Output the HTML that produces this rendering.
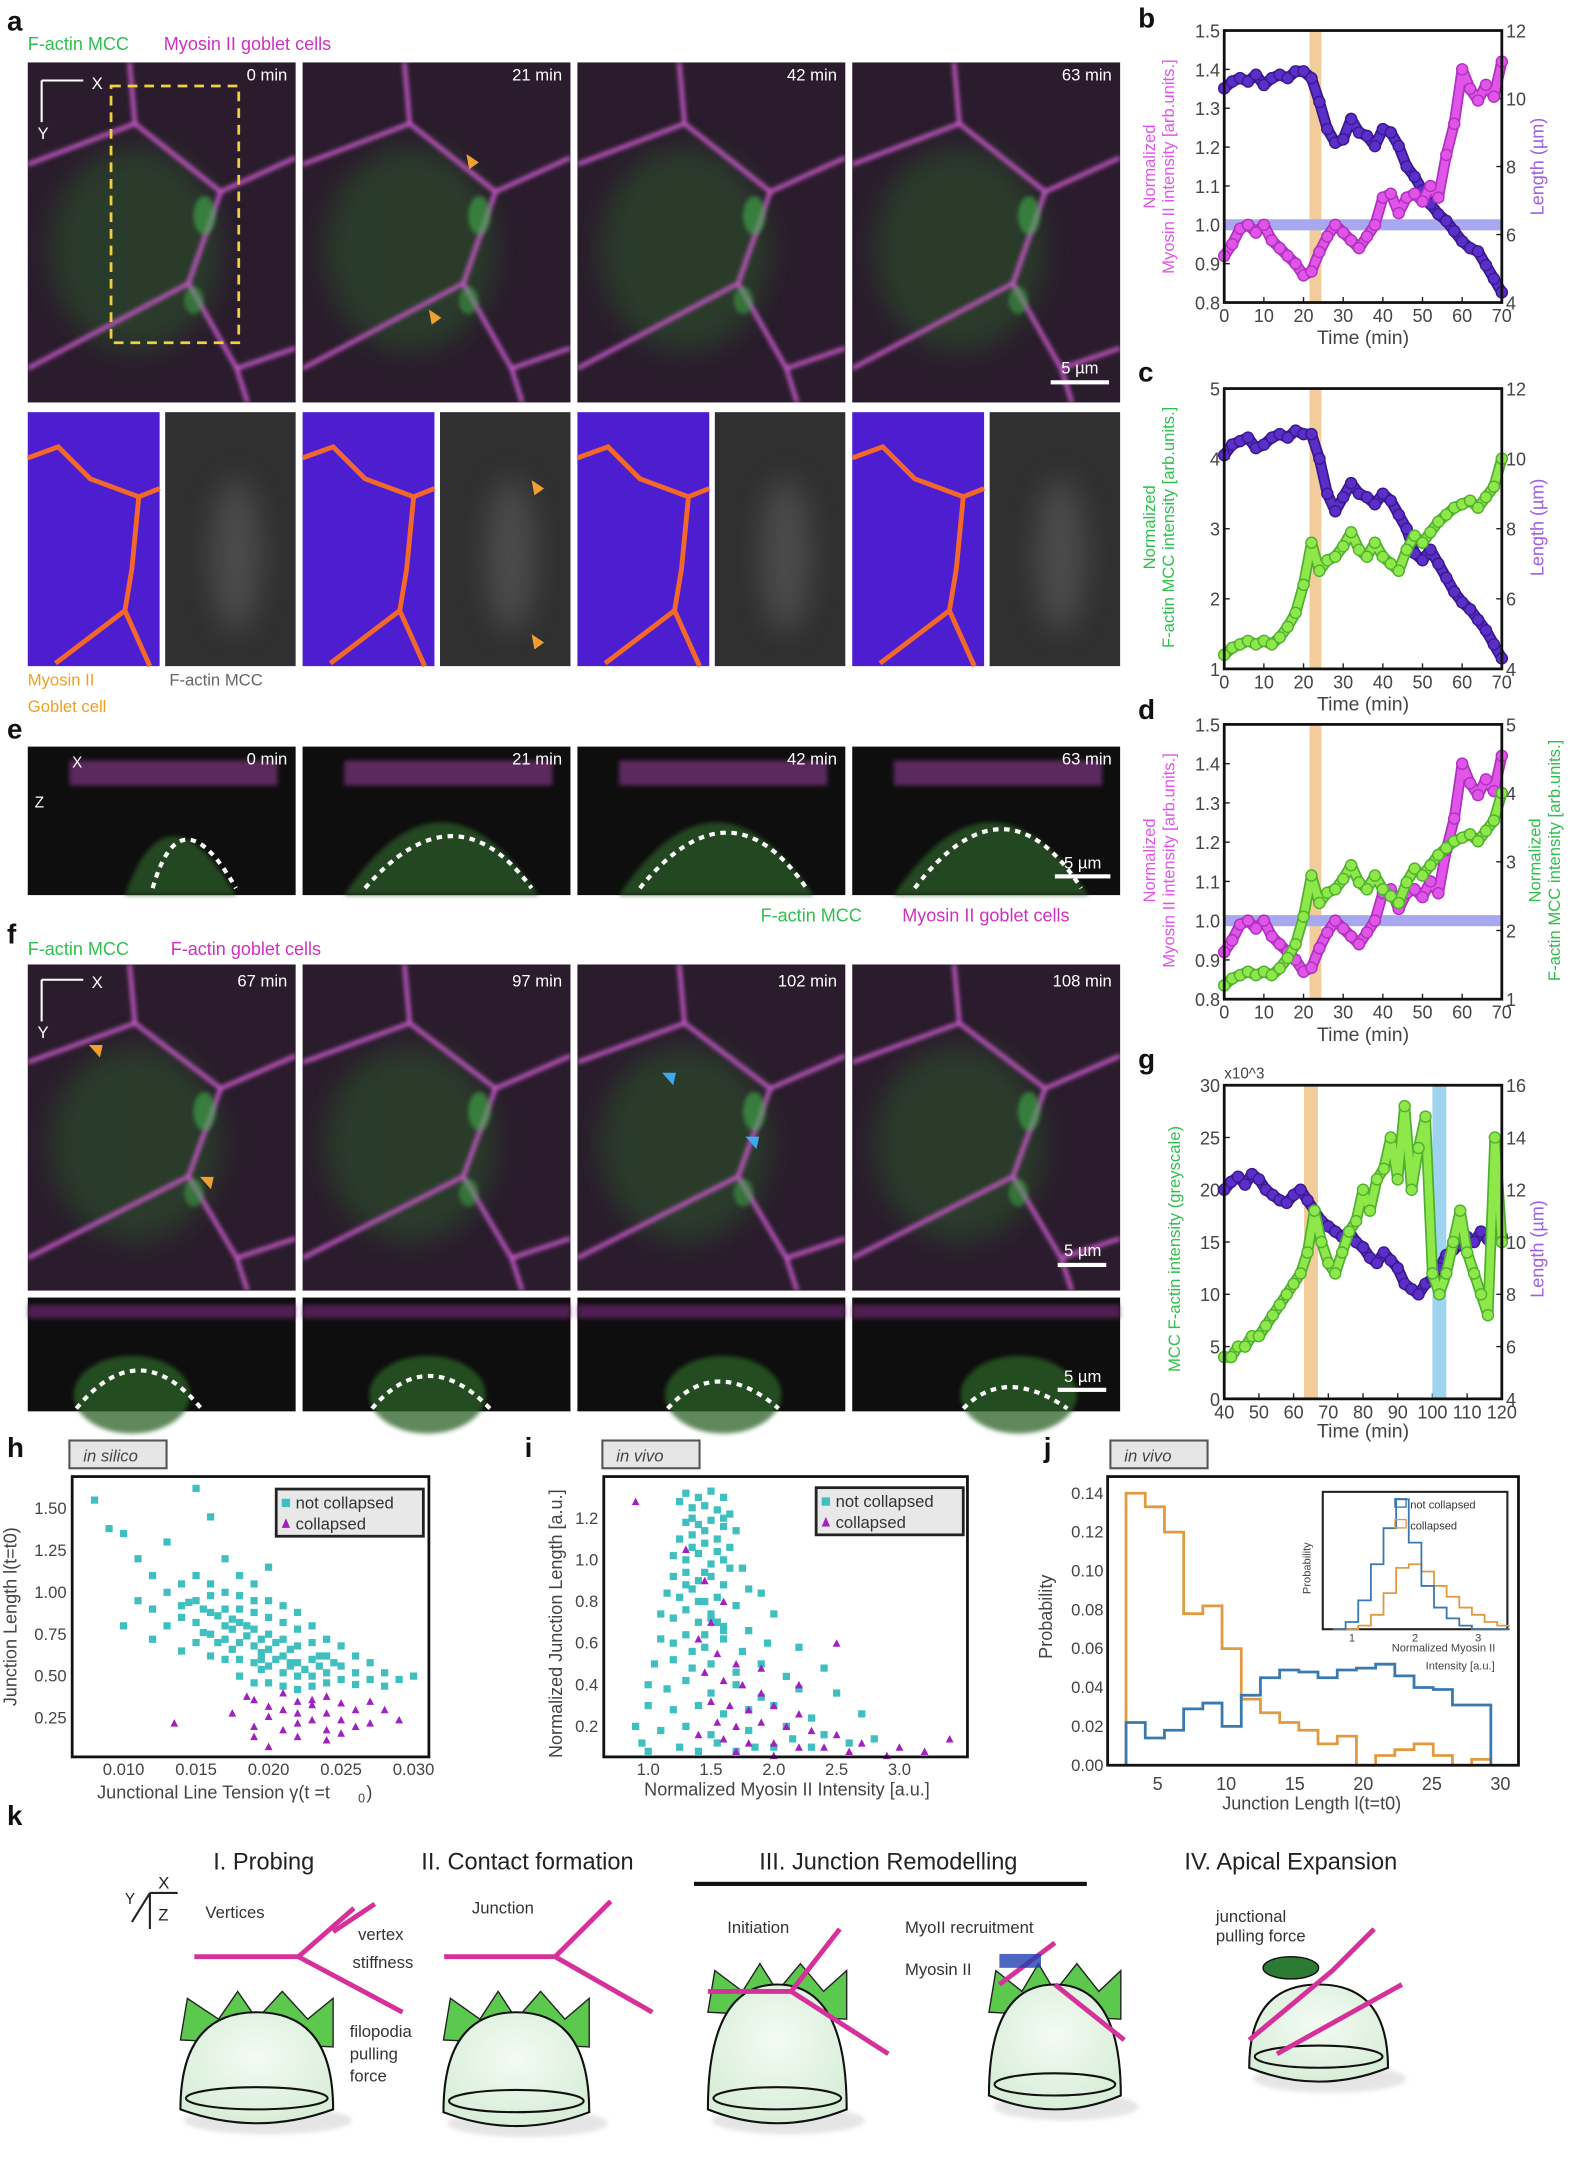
<!DOCTYPE html>
<html><head><meta charset="utf-8">
<style>
html,body{margin:0;padding:0;background:#fff;}
svg{display:block;font-family:"Liberation Sans",sans-serif;}
</style></head>
<body>
<svg id="fig" xmlns="http://www.w3.org/2000/svg" width="1574" height="2176" viewBox="0 0 1134 1568" preserveAspectRatio="none">
<defs>
<filter id="bl" x="-20%" y="-20%" width="140%" height="140%"><feGaussianBlur stdDeviation="1.6"/></filter>
<filter id="bl2" x="-50%" y="-50%" width="200%" height="200%"><feGaussianBlur stdDeviation="10"/></filter>
<radialGradient id="cellg" cx="50%" cy="40%" r="60%"><stop offset="0" stop-color="#f4fbf4"/><stop offset="1" stop-color="#d8eed8"/></radialGradient>
</defs>
<g id="micro"></g>
<g id="charts"></g>
<g id="schem"></g>
</svg>
<script>
// ---------- DATA ----------
const tB = [0,2,4,6,8,10,12,14,16,18,20,22,24,26,28,30,32,34,36,38,40,42,44,46,48,50,52,54,56,58,60,62,64,66,68,70];
const myoB = [0.92,0.95,0.99,1.0,0.98,1.0,0.96,0.94,0.92,0.9,0.87,0.88,0.93,0.97,1.0,0.98,0.96,0.94,0.97,1.0,1.07,1.08,1.03,1.07,1.08,1.06,1.1,1.07,1.18,1.26,1.4,1.35,1.32,1.36,1.33,1.42];
const lenB = [10.3,10.5,10.6,10.5,10.7,10.4,10.6,10.7,10.6,10.8,10.8,10.6,9.9,9.1,8.7,8.8,9.4,9.0,8.9,8.6,9.1,9.0,8.6,8.0,7.7,7.3,6.9,6.6,6.4,6.1,5.8,5.6,5.5,5.1,4.7,4.3];
const actC = [1.2,1.3,1.35,1.4,1.35,1.4,1.35,1.45,1.6,1.8,2.2,2.8,2.4,2.55,2.6,2.75,2.95,2.7,2.6,2.8,2.6,2.5,2.4,2.7,2.9,2.8,2.95,3.1,3.2,3.3,3.35,3.4,3.3,3.45,3.6,4.0];
const lenC = [10.1,10.4,10.5,10.6,10.3,10.4,10.6,10.7,10.6,10.8,10.7,10.7,10.0,9.0,8.5,8.9,9.3,9.0,8.9,8.7,9.0,8.8,8.4,8.0,7.3,7.1,7.4,7.0,6.6,6.2,5.9,5.7,5.4,5.1,4.7,4.3];
const tG = [40,42,44,46,48,50,52,54,56,58,60,62,64,66,68,70,72,74,76,78,80,82,84,86,88,90,92,94,96,98,100,102,104,106,108,110,112,114,116,118,120];
const actG = [4,4,5,5,6,6,7,8,9,10,11,12,14,18,15,13,12,14,16,17,20,18,21,22,25,21,28,20,24,27,12,10,12,15,18,14,12,10,8,25,15];
const lenG = [12,12.3,12.5,12.2,12.6,12.4,12,11.8,11.6,11.5,11.8,12,11.6,11.2,10.8,10.6,10.4,10.2,10.4,10.0,9.8,9.4,9.2,9.6,9.3,9.0,8.4,8.2,8.0,8.4,8.6,9.0,9.5,9.7,9.9,10.2,10.0,10.4,10.1,10.3,10.2];
const hNX = [0.008,0.009,0.010,0.010,0.011,0.011,0.012,0.012,0.012,0.013,0.013,0.013,0.014,0.014,0.014,0.014,0.015,0.015,0.015,0.015,0.015,0.016,0.016,0.016,0.016,0.016,0.016,0.017,0.017,0.017,0.017,0.017,0.017,0.018,0.018,0.018,0.018,0.018,0.018,0.018,0.019,0.019,0.019,0.019,0.019,0.019,0.019,0.020,0.020,0.020,0.020,0.020,0.020,0.020,0.021,0.021,0.021,0.021,0.021,0.021,0.022,0.022,0.022,0.022,0.022,0.022,0.023,0.023,0.023,0.023,0.023,0.024,0.024,0.024,0.024,0.025,0.025,0.025,0.026,0.026,0.026,0.027,0.027,0.028,0.028,0.029,0.030,0.0165,0.0175,0.0185,0.0195,0.0205,0.0215,0.0225,0.0155,0.0145,0.0235,0.0245,0.0215,0.0195,0.0165,0.0175,0.0185,0.0195,0.0205,0.0155,0.0175,0.0195,0.0215,0.0235];
const hNY = [1.55,1.38,1.35,0.8,1.2,0.95,1.1,0.9,0.72,1.3,1.0,0.8,1.05,0.92,0.85,0.65,1.62,1.1,0.95,0.82,0.7,1.45,1.05,0.98,0.88,0.75,0.62,1.2,1.0,0.9,0.8,0.72,0.6,1.1,0.98,0.9,0.82,0.7,0.6,0.5,1.05,0.95,0.88,0.78,0.68,0.58,0.46,1.15,0.95,0.85,0.75,0.66,0.56,0.46,0.92,0.82,0.72,0.62,0.52,0.44,0.88,0.78,0.68,0.58,0.5,0.42,0.8,0.7,0.6,0.5,0.44,0.72,0.62,0.52,0.46,0.68,0.56,0.48,0.62,0.52,0.45,0.58,0.48,0.52,0.44,0.48,0.5,0.86,0.78,0.74,0.64,0.6,0.56,0.54,0.9,0.94,0.62,0.58,0.66,0.72,0.7,0.66,0.8,0.6,0.7,0.76,0.84,0.54,0.58,0.56];
const hCX = [0.0135,0.0175,0.0185,0.019,0.019,0.020,0.020,0.021,0.021,0.022,0.022,0.022,0.023,0.023,0.024,0.024,0.024,0.025,0.025,0.026,0.026,0.027,0.027,0.028,0.029,0.019,0.021,0.023,0.025,0.020,0.022,0.024];
const hCY = [0.22,0.28,0.38,0.36,0.2,0.32,0.08,0.4,0.18,0.35,0.28,0.14,0.33,0.24,0.38,0.28,0.18,0.34,0.24,0.3,0.2,0.35,0.22,0.3,0.24,0.14,0.3,0.36,0.16,0.26,0.22,0.12];
const iNX = [1.3,1.4,1.5,1.6,1.35,1.45,1.55,1.65,1.3,1.4,1.5,1.6,1.7,1.25,1.35,1.45,1.55,1.65,1.2,1.3,1.4,1.5,1.6,1.75,1.2,1.3,1.4,1.5,1.6,1.8,1.15,1.25,1.35,1.45,1.55,1.7,1.9,1.1,1.2,1.3,1.4,1.5,1.6,1.8,2.0,1.1,1.2,1.3,1.45,1.6,1.75,1.95,2.2,1.05,1.2,1.35,1.5,1.7,1.9,2.1,2.4,1.0,1.15,1.3,1.5,1.7,1.9,2.2,2.5,1.0,1.2,1.4,1.6,1.8,2.0,2.3,2.7,0.9,1.1,1.3,1.5,1.8,2.1,2.4,0.95,1.25,1.55,1.85,2.15,2.6,1.0,1.4,1.7,2.0,2.3,2.8,1.6,1.45,1.35,1.55,1.25,1.35,1.45,1.55,1.65,1.3,1.4,1.5,1.6,1.35,1.45,1.55];
const iNY = [1.32,1.3,1.33,1.3,1.25,1.26,1.24,1.22,1.18,1.17,1.19,1.16,1.14,1.1,1.12,1.08,1.1,1.06,1.02,1.0,1.03,0.98,1.0,0.96,0.92,0.94,0.9,0.92,0.88,0.86,0.84,0.82,0.86,0.8,0.82,0.78,0.84,0.74,0.72,0.76,0.7,0.72,0.68,0.66,0.74,0.62,0.6,0.64,0.58,0.62,0.56,0.6,0.58,0.5,0.52,0.48,0.5,0.46,0.5,0.44,0.48,0.4,0.38,0.42,0.36,0.4,0.34,0.38,0.36,0.3,0.28,0.3,0.26,0.28,0.3,0.24,0.26,0.2,0.18,0.2,0.16,0.18,0.2,0.16,0.12,0.1,0.12,0.1,0.14,0.12,0.08,0.08,0.08,0.1,0.1,0.14,1.2,0.94,1.06,0.7,1.28,1.2,1.14,1.04,0.96,0.88,0.8,0.74,0.66,0.56,0.64,0.7];
const iCX = [0.9,1.3,1.45,1.6,1.5,1.4,1.55,1.7,1.45,1.6,1.75,1.9,1.5,1.65,1.8,2.0,2.2,1.55,1.7,1.9,2.1,2.3,2.5,1.6,1.8,2.0,2.2,2.4,2.7,3.0,3.4,1.4,1.7,2.0,2.6,2.9,3.2,2.5,2.2,1.9];
const iCY = [1.28,1.05,0.9,0.8,0.7,0.62,0.55,0.5,0.46,0.42,0.4,0.36,0.32,0.3,0.28,0.3,0.26,0.22,0.2,0.22,0.2,0.18,0.16,0.14,0.12,0.12,0.1,0.1,0.12,0.1,0.14,0.16,0.08,0.06,0.08,0.06,0.08,0.6,0.4,0.48];
const jEdges0 = 2.7;
const jBinW = 1.4;
const jOrange = [0.14,0.133,0.12,0.078,0.082,0.06,0.034,0.027,0.022,0.018,0.011,0.015,0.0,0.005,0.008,0.011,0.005,0.0,0.003];
const jBlue = [0.022,0.014,0.018,0.029,0.032,0.02,0.036,0.045,0.049,0.048,0.045,0.049,0.05,0.052,0.046,0.04,0.039,0.031,0.031];
const insetBlue = [0,0.1,0.4,0.9,1.4,1.8,1.2,0.6,0.3,0.15,0.05,0,0,0];
const insetOrange = [0,0,0.05,0.2,0.5,0.85,0.9,0.8,0.6,0.45,0.3,0.2,0.1,0.05];

const NS='http://www.w3.org/2000/svg';
function mk(tag, attrs, parent){const e=document.createElementNS(NS,tag);for(const k in attrs)e.setAttribute(k,attrs[k]);parent.appendChild(e);return e;}
function txt(s,x,y,size,fill,parent,anchor,extra){const t=mk('text',{x:x,y:y,'font-size':size,fill:fill||'#222','text-anchor':anchor||'start'},parent);if(extra)for(const k in extra)t.setAttribute(k,extra[k]);t.textContent=s;return t;}

const micro=document.getElementById('micro');
const charts=document.getElementById('charts');
const schem=document.getElementById('schem');

// ---------- MICROSCOPY ----------
function magPanel(x,y,w,h,name,green){
  const g=mk('g',{},micro);
  
  
  mk('rect',{x:x,y:y,width:w,height:h,fill:'#2a1c2c'},g);
  const cp='cp'+name;
  const c=mk('clipPath',{id:cp},g);mk('rect',{x:x,y:y,width:w,height:h},c);
  const inner=mk('g',{'clip-path':'url(#'+cp+')'},g);
  if(green) mk('ellipse',{cx:x+w*0.4,cy:y+h*0.55,rx:w*0.32,ry:h*0.3,fill:'#2b4a2a',opacity:0.7,filter:'url(#bl2)'},inner);
  const p='M'+(x)+','+(y+h*0.3)+' L'+(x+w*0.4)+','+(y+h*0.18)+' L'+(x+w*0.72)+','+(y+h*0.38)+' L'+(x+w)+','+(y+h*0.28)+
    ' M'+(x+w*0.4)+','+(y+h*0.18)+' L'+(x+w*0.38)+','+(y)+
    ' M'+(x+w*0.72)+','+(y+h*0.38)+' L'+(x+w*0.6)+','+(y+h*0.65)+' L'+(x+w*0.78)+','+(y+h*0.9)+' L'+(x+w*0.82)+','+(y+h)+
    ' M'+(x+w*0.6)+','+(y+h*0.65)+' L'+(x)+','+(y+h*0.9)+
    ' M'+(x+w*0.78)+','+(y+h*0.9)+' L'+(x+w)+','+(y+h*0.84);
  mk('path',{d:p,stroke:'#c658c8',fill:'none','stroke-width':3,filter:'url(#bl)'},inner);
  if(green){mk('ellipse',{cx:x+w*0.66,cy:y+h*0.45,rx:8,ry:14,fill:'#3fb04a',opacity:0.6,filter:'url(#bl)'},inner);
    mk('ellipse',{cx:x+w*0.62,cy:y+h*0.7,rx:7,ry:10,fill:'#3fb04a',opacity:0.5,filter:'url(#bl)'},inner);}
  return g;
}
const colsA=[20,218,416,614], wA=193;
const timesA=['0 min','21 min','42 min','63 min'];
colsA.forEach((x,i)=>{
  magPanel(x,45,wA,245,'a-top-'+i,true);
  const t=txt(timesA[i],x+wA-6,58,12,'#fff',micro,'end');
  
  
  const gb=mk('g',{},micro);
  
  
  mk('rect',{x:x,y:297,width:95,height:183,fill:'#4d1ed0'},gb);
  mk('path',{d:'M'+x+','+(330)+' L'+(x+22)+','+(322)+' L'+(x+45)+','+(345)+' L'+(x+80)+','+(358)+' L'+(x+95)+','+(352)+' M'+(x+80)+','+(358)+' L'+(x+75)+','+(410)+' L'+(x+70)+','+(440)+' L'+(x+20)+','+(478)+' M'+(x+70)+','+(440)+' L'+(x+88)+','+(480),stroke:'#f2682a',fill:'none','stroke-width':3.5},gb);
  mk('rect',{x:x+99,y:297,width:94,height:183,fill:'#303030'},gb);
  mk('ellipse',{cx:x+150,cy:400,rx:18,ry:55,fill:'#666',opacity:0.5,filter:'url(#bl2)'},gb);
});
mk('rect',{x:80,y:62,width:92,height:185,fill:'none',stroke:'#f0d040','stroke-width':2,'stroke-dasharray':'7,5'},micro);
txt('F-actin MCC',20,36,13,'#2fbf4f',micro);
txt('Myosin II goblet cells',118,36,13,'#d030c0',micro);
txt('X',66,64,12,'#fff',micro);txt('Y',27,100,12,'#fff',micro);
mk('path',{d:'M30,58 L60,58 M30,58 L30,88',stroke:'#fff','stroke-width':1.5},micro);
mk('rect',{x:757,y:274,width:42,height:3,fill:'#fff'},micro);
txt('5 µm',778,269,12,'#fff',micro,'middle');
txt('Myosin II',20,494,12,'#f0a020',micro);txt('Goblet cell',20,513,12,'#f0a020',micro);
txt('F-actin MCC',122,494,12,'#666',micro);
[[345,117],[318,229],[392,352],[392,463]].forEach(p=>{mk('path',{d:'M'+p[0]+','+p[1]+' l-9,-6 l2,11 z',fill:'#f0a030'},micro);});
const timesE=['0 min','21 min','42 min','63 min'];
colsA.forEach((x,i)=>{
  const g=mk('g',{},micro);
  
  
  mk('rect',{x:x,y:538,width:wA,height:107,fill:'#0e0e0e'},g);
  mk('rect',{x:x+30,y:548,width:150,height:18,fill:'#9a3fa0',opacity:0.55,filter:'url(#bl)'},g);
  mk('path',{d:'M'+(x+70+(i?-40:0))+',645 Q'+(x+100)+','+(560-(i?20:0))+' '+(x+150+(i?20:0))+',645 z',fill:'#2a5a28',opacity:0.75,filter:'url(#bl)'},g);
  mk('path',{d:'M'+(x+90-(i?45:0))+',640 Q'+(x+110)+','+(570-i*5)+' '+(x+150+(i?15:0))+',640',stroke:'#fff','stroke-width':3,'stroke-dasharray':'4,4',fill:'none'},g);
  txt(timesE[i],x+wA-6,551,12,'#fff',micro,'end');
});
txt('X',52,553,11,'#fff',micro);txt('Z',25,582,11,'#fff',micro);
mk('rect',{x:760,y:630,width:40,height:3,fill:'#fff'},micro);txt('5 µm',780,626,12,'#fff',micro,'middle');
txt('F-actin MCC',548,664,13,'#2fbf4f',micro);txt('Myosin II goblet cells',650,664,13,'#d030c0',micro);
txt('F-actin MCC',20,688,13,'#2fbf4f',micro);txt('F-actin goblet cells',123,688,13,'#d030c0',micro);
const timesF=['67 min','97 min','102 min','108 min'];
colsA.forEach((x,i)=>{
  magPanel(x,695,wA,235,'f-top-'+i,true);
  txt(timesF[i],x+wA-6,711,12,'#fff',micro,'end');
  const g=mk('g',{},micro);
  
  
  mk('rect',{x:x,y:935,width:wA,height:82,fill:'#0e0e0e'},g);
  mk('rect',{x:x,y:940,width:wA,height:10,fill:'#7a2a80',opacity:0.6,filter:'url(#bl)'},g);
  mk('ellipse',{cx:x+75+i*15,cy:1005,rx:42,ry:28,fill:'#2a6226',opacity:0.75,filter:'url(#bl)'},g);
  mk('path',{d:'M'+(x+35+i*15)+',1015 Q'+(x+80+i*10)+','+(960+i*8)+' '+(x+125+i*10)+',1015',stroke:'#fff','stroke-width':3,'stroke-dasharray':'4,4',fill:'none'},g);
});
txt('X',66,712,12,'#fff',micro);txt('Y',27,748,12,'#fff',micro);
mk('path',{d:'M30,706 L60,706 M30,706 L30,736',stroke:'#fff','stroke-width':1.5},micro);
mk('rect',{x:762,y:910,width:35,height:3,fill:'#fff'},micro);txt('5 µm',780,905,12,'#fff',micro,'middle');
mk('rect',{x:762,y:1000,width:35,height:3,fill:'#fff'},micro);txt('5 µm',780,996,12,'#fff',micro,'middle');
[[72,762],[152,857]].forEach(p=>mk('path',{d:'M'+p[0]+','+p[1]+' l-8,-9 l10,0 z',fill:'#f0a030'},micro));
[[485,782],[545,828]].forEach(p=>mk('path',{d:'M'+p[0]+','+p[1]+' l-8,-9 l10,0 z',fill:'#40a8f0'},micro));

[['a',5,22],['b',820,20],['c',820,275],['e',5,532],['d',820,518],['f',5,680],['g',820,770],['h',5,1050],['i',378,1050],['j',752,1050],['k',5,1315]].forEach(l=>{
  const t=txt(l[0],l[1],l[2],20,'#111',charts,'start',{'font-weight':'bold'});
  
  
});

// ---------- LINE CHARTS ----------
function axisFrame(box,xr,yl,yr,xt,ylt,yrt,xfmt){
  const g=mk('g',{},charts);
  
  
  const X=v=>box.x0+(v-xr[0])/(xr[1]-xr[0])*(box.x1-box.x0);
  const YL=v=>box.y1-(v-yl[0])/(yl[1]-yl[0])*(box.y1-box.y0);
  const YR=v=>box.y1-(v-yr[0])/(yr[1]-yr[0])*(box.y1-box.y0);
  xt.forEach(v=>{mk('line',{x1:X(v),x2:X(v),y1:box.y1,y2:box.y1-4,stroke:'#222'},g);txt(String(v),X(v),box.y1+14,13,'#444',g,'middle');});
  ylt.forEach(v=>{mk('line',{x1:box.x0,x2:box.x0+4,y1:YL(v),y2:YL(v),stroke:'#222'},g);txt(xfmt?xfmt(v):String(v),box.x0-3,YL(v)+5,13,'#444',g,'end');});
  yrt.forEach(v=>{mk('line',{x1:box.x1,x2:box.x1-4,y1:YR(v),y2:YR(v),stroke:'#222'},g);txt(String(v),box.x1+3,YR(v)+5,13,'#444',g,'start');});
  return {g,X,YL,YR};
}
function band(g,x,y,w,h,col){mk('rect',{x:x,y:y,width:w,height:h,fill:col},g);}
function series(g,xs,ys,X,Y,fill,stroke,name){
  const s=mk('g',{},g);
  
  
  const pts=xs.map((t,i)=>X(t)+','+Y(ys[i])).join(' ');
  mk('polyline',{points:pts,fill:'none',stroke:stroke,'stroke-width':8,'stroke-linejoin':'round'},s);
  mk('polyline',{points:pts,fill:'none',stroke:fill,'stroke-width':5.5,'stroke-linejoin':'round'},s);
  xs.forEach((t,i)=>{const c=mk('circle',{cx:X(t),cy:Y(ys[i]),r:4,fill:fill,stroke:stroke,'stroke-width':1},s);
    
    });
}
function frameRect(g,b){mk('rect',{x:b.x0,y:b.y0,width:b.x1-b.x0,height:b.y1-b.y0,fill:'none',stroke:'#111','stroke-width':2},g);}
function rotLabel(s,x,y,col,size,parent){const t=txt(s,x,y,size||13,col,parent,'middle',{transform:'rotate(-90 '+x+' '+y+')'});return t;}

const PURP='#5a2fc8', PURPD='#3a1890', MAG='#e055e8', MAGD='#b030c0', GRN='#8ee84a', GRND='#4fb030';
{const b={x0:882,x1:1082,y0:22,y1:218};
 const A=axisFrame(b,[0,70],[0.8,1.5],[4,12],[0,10,20,30,40,50,60,70],[0.8,0.9,1.0,1.1,1.2,1.3,1.4,1.5],[4,6,8,10,12],v=>v.toFixed(1));
 
 band(A.g,A.X(21.5),b.y0,A.X(24.5)-A.X(21.5),b.y1-b.y0,'#f2cc9a');
 band(A.g,b.x0,A.YL(1.0)-4,b.x1-b.x0,8,'#a8a8f0');
 series(A.g,tB,lenB,A.X,A.YR,PURP,PURPD,'b-length-series');
 series(A.g,tB,myoB,A.X,A.YL,MAG,MAGD,'b-myosin-series');
 frameRect(A.g,b);
 txt('Time (min)',982,248,14,'#444',A.g,'middle');
 rotLabel('Normalized',832,120,'#e055e8',12,A.g);rotLabel('Myosin II intensity  [arb.units.]',846,120,'#e055e8',12,A.g);
 rotLabel('Length (µm)',1112,120,'#a060e0',13,A.g);}
{const b={x0:882,x1:1082,y0:280,y1:482};
 const A=axisFrame(b,[0,70],[1,5],[4,12],[0,10,20,30,40,50,60,70],[1,2,3,4,5],[4,6,8,10,12]);
 
 band(A.g,A.X(21.5),b.y0,A.X(24.5)-A.X(21.5),b.y1-b.y0,'#f2cc9a');
 series(A.g,tB,lenC,A.X,A.YR,PURP,PURPD,'c-length-series');
 series(A.g,tB,actC,A.X,A.YL,GRN,GRND,'c-factin-series');
 frameRect(A.g,b);
 txt('Time (min)',982,512,14,'#444',A.g,'middle');
 rotLabel('Normalized',832,380,'#2fbf4f',12,A.g);rotLabel('F-actin MCC intensity  [arb.units.]',846,380,'#2fbf4f',12,A.g);
 rotLabel('Length (µm)',1112,380,'#a060e0',13,A.g);}
{const b={x0:882,x1:1082,y0:522,y1:720};
 const A=axisFrame(b,[0,70],[0.8,1.5],[1,5],[0,10,20,30,40,50,60,70],[0.8,0.9,1.0,1.1,1.2,1.3,1.4,1.5],[1,2,3,4,5],v=>v.toFixed(1));
 
 band(A.g,A.X(21.5),b.y0,A.X(24.5)-A.X(21.5),b.y1-b.y0,'#f2cc9a');
 band(A.g,b.x0,A.YL(1.0)-4,b.x1-b.x0,8,'#a8a8f0');
 series(A.g,tB,myoB,A.X,A.YL,MAG,MAGD,'d-myosin-series');
 series(A.g,tB,actC,A.X,A.YR,GRN,GRND,'d-factin-series');
 frameRect(A.g,b);
 txt('Time (min)',982,750,14,'#444',A.g,'middle');
 rotLabel('Normalized',832,620,'#e055e8',12,A.g);rotLabel('Myosin II intensity  [arb.units.]',846,620,'#e055e8',12,A.g);
 rotLabel('Normalized',1110,620,'#2fbf4f',12,A.g);rotLabel('F-actin MCC intensity  [arb.units.]',1124,620,'#2fbf4f',12,A.g);}
{const b={x0:882,x1:1082,y0:782,y1:1008};
 const A=axisFrame(b,[40,120],[0,30],[4,16],[40,50,60,70,80,90,100,110,120],[0,5,10,15,20,25,30],[4,6,8,10,12,14,16]);
 
 band(A.g,A.X(63),b.y0,A.X(67)-A.X(63),b.y1-b.y0,'#f2cc9a');
 band(A.g,A.X(100),b.y0,A.X(104)-A.X(100),b.y1-b.y0,'#9fd4f0');
 series(A.g,tG,lenG,A.X,A.YR,PURP,PURPD,'g-length-series');
 series(A.g,tG,actG,A.X,A.YL,GRN,GRND,'g-factin-series');
 frameRect(A.g,b);
 txt('x10^3',882,777,11,'#444',A.g,'start');
 txt('Time (min)',982,1036,14,'#444',A.g,'middle');
 rotLabel('MCC F-actin intensity (greyscale)',850,900,'#2fbf4f',12,A.g);
 rotLabel('Length (µm)',1112,900,'#a060e0',13,A.g);}

// ---------- SCATTER ----------
function tag(x,y,s,parent){const g=mk('g',{},parent);mk('rect',{x:x,y:y,width:70,height:20,fill:'#e6e6e6',stroke:'#555','stroke-width':1.5},g);txt(s,x+10,y+15,12,'#444',g,'start',{'font-style':'italic'});return g;}
function legend(x,y,parent){const g=mk('g',{},parent);
 
 
 mk('rect',{x:x,y:y,width:106,height:34,fill:'#e8e8e8',stroke:'#222','stroke-width':2},g);
 mk('rect',{x:x+4,y:y+7,width:6,height:6,fill:'#3fc0c0'},g);txt('not collapsed',x+14,y+14,12,'#333',g);
 mk('path',{d:'M'+(x+4)+','+(y+28)+' l3,-7 l3,7 z',fill:'#a020c0'},g);txt('collapsed',x+14,y+29,12,'#333',g);}
function scatter(g,xs,ys,X,Y,kind,name){
 const s=mk('g',{},g);
 
 
 xs.forEach((v,i)=>{let e;
  if(kind==='sq') e=mk('rect',{x:X(v)-2.6,y:Y(ys[i])-2.6,width:5.2,height:5.2,fill:'#3fbfbf'},s);
  else e=mk('path',{d:'M'+(X(v)-2.8)+','+(Y(ys[i])+2.6)+' l2.8,-5.4 l2.8,5.4 z',fill:'#a020c0'},s);
  
  });}
{const g=mk('g',{},charts);
 
 
 const b={x0:52,x1:309,y0:1064,y1:1266};
 const X=v=>89+(v-0.01)/0.02*209, Y=v=>1238-(v-0.25)*120.8;
 tag(50,1038,'in silico',g);
 scatter(g,hNX,hNY,X,Y,'sq','h-not-collapsed');
 scatter(g,hCX,hCY,X,Y,'tri','h-collapsed');
 frameRect(g,b);
 legend(199,1073,g);
 [0.010,0.015,0.020,0.025,0.030].forEach(v=>txt(v.toFixed(3),X(v),1279,12,'#444',g,'middle'));
 [0.25,0.5,0.75,1.0,1.25,1.5].forEach(v=>txt(v.toFixed(2),48,Y(v)+4,12,'#444',g,'end'));
 txt('Junctional Line Tension  γ(t =t',70,1296,13,'#444',g);txt('0',258,1299,9,'#444',g);txt(')',264,1296,13,'#444',g);
 rotLabel('Junction Length l(t=t0)',12,1165,'#444',13,g);}
{const g=mk('g',{},charts);
 
 
 const b={x0:435,x1:697,y0:1064,y1:1266};
 const X=v=>467+(v-1)*90.5, Y=v=>1094-(v-1.2)*150;
 tag(434,1038,'in vivo',g);
 scatter(g,iNX,iNY,X,Y,'sq','i-not-collapsed');
 scatter(g,iCX,iCY,X,Y,'tri','i-collapsed');
 frameRect(g,b);
 legend(588,1072,g);
 [1.0,1.5,2.0,2.5,3.0].forEach(v=>txt(v.toFixed(1),X(v),1279,12,'#444',g,'middle'));
 [0.2,0.4,0.6,0.8,1.0,1.2].forEach(v=>txt(v.toFixed(1),431,Y(v)+4,12,'#444',g,'end'));
 txt('Normalized Myosin II Intensity [a.u.]',567,1294,13,'#444',g,'middle');
 rotLabel('Normalized Junction Length [a.u.]',405,1170,'#444',13,g);}
{const g=mk('g',{},charts);
 
 
 const b={x0:798,x1:1094,y0:1064,y1:1272};
 const X=v=>834+(v-5)*9.88, Y=v=>1272-v*1400;
 tag(800,1038,'in vivo',g);
 function hist(vals,col,name){let d='M'+X(jEdges0)+','+Y(0);
  vals.forEach((v,i)=>{d+=' L'+X(jEdges0+i*jBinW)+','+Y(v)+' L'+X(jEdges0+(i+1)*jBinW)+','+Y(v);});
  d+=' L'+X(jEdges0+vals.length*jBinW)+','+Y(0);
  const p=mk('path',{d:d,fill:'none',stroke:col,'stroke-width':2},g);
  
  }
 hist(jOrange,'#e09a40','j-collapsed-hist');
 hist(jBlue,'#3a78b0','j-not-collapsed-hist');
 frameRect(g,b);
 [5,10,15,20,25,30].forEach(v=>txt(String(v),X(v),1290,13,'#444',g,'middle'));
 [0,0.02,0.04,0.06,0.08,0.10,0.12,0.14].forEach(v=>txt(v.toFixed(2),795,Y(v)+4,12,'#444',g,'end'));
 txt('Junction Length l(t=t0)',945,1304,13,'#444',g,'middle');
 rotLabel('Probability',758,1165,'#444',13,g);
 const ib={x0:953,x1:1086,y0:1075,y1:1174};
 mk('rect',{x:ib.x0,y:ib.y0,width:133,height:99,fill:'#fff',stroke:'#222','stroke-width':1.5},g);
 const IX=v=>974+(v-1)*45.5, IY=v=>1174-v*52;
 function ih(vals,col,name){let d='M'+IX(0.7)+','+IY(0);vals.forEach((v,i)=>{d+=' L'+IX(0.7+i*0.2)+','+IY(v)+' L'+IX(0.9+i*0.2)+','+IY(v);});
  const p=mk('path',{d:d,fill:'none',stroke:col,'stroke-width':1.3},g);
  
  }
 ih(insetOrange,'#e09a40','inset-collapsed');ih(insetBlue,'#3a78b0','inset-not-collapsed');
 mk('rect',{x:1005,y:1080,width:8,height:6,fill:'none',stroke:'#3a78b0'},g);txt('not collapsed',1016,1087,8,'#333',g);
 mk('rect',{x:1005,y:1095,width:8,height:6,fill:'none',stroke:'#e09a40'},g);txt('collapsed',1016,1102,8,'#333',g);
 [1,2,3].forEach(v=>txt(String(v),IX(v),1183,8,'#444',g,'middle'));
 txt('Normalized Myosin II',1040,1190,8,'#444',g,'middle');txt('Intensity [a.u.]',1052,1203,8,'#444',g,'middle');
 rotLabel('Probability',944,1130,'#444',8,g);}

// ---------- SCHEMATIC K ----------
const kt=[['I. Probing',190],['II. Contact formation',380],['III. Junction Remodelling',640],['IV. Apical Expansion',930]];
kt.forEach(k=>{const t=txt(k[0],k[1],1347,17,'#222',schem,'middle');
 
 });
mk('rect',{x:500,y:1356,width:283,height:3,fill:'#111'},schem);
function cell(cx,top,w,h,green){const g=mk('g',{},schem);
 
 
 mk('ellipse',{cx:cx+8,cy:top+h+8,rx:w*0.55,ry:10,fill:'#ccc',opacity:0.5,filter:'url(#bl)'},g);
 if(green) mk('path',{d:'M'+(cx-w/2)+','+(top+30)+' L'+(cx-w/2+5)+','+(top)+' L'+(cx-w/4)+','+(top+15)+' L'+(cx-w/8)+','+(top-5)+' L'+(cx)+','+(top+15)+' L'+(cx+w/6)+','+(top-5)+' L'+(cx+w/3)+','+(top+15)+' L'+(cx+w/2)+','+(top)+' L'+(cx+w/2)+','+(top+35)+' Z',fill:'#5cc94e',stroke:'#222','stroke-width':1},g);
 mk('path',{d:'M'+(cx-w/2)+','+(top+h)+' Q'+(cx-w/2)+','+(top+10)+' '+cx+','+(top+10)+' Q'+(cx+w/2)+','+(top+10)+' '+(cx+w/2)+','+(top+h)+' Q'+cx+','+(top+h+20)+' '+(cx-w/2)+','+(top+h)+' Z',fill:'url(#cellg)',stroke:'#111','stroke-width':1.5},g);
 mk('ellipse',{cx:cx,cy:top+h-8,rx:w/2-4,ry:8,fill:'none',stroke:'#111','stroke-width':1.5},g);}
cell(185,1440,110,80,true);cell(372,1440,105,82,true);cell(560,1420,100,100,true);cell(760,1420,95,90,true);cell(950,1420,100,70,false);
function junc(pts){const p=mk('polyline',{points:pts,fill:'none',stroke:'#d6309a','stroke-width':3.5},schem);
 
 }
junc('140,1410 215,1410 255,1375');junc('215,1410 290,1450');junc('240,1392 270,1372');
junc('320,1410 400,1410 440,1370');junc('400,1410 470,1450');
junc('510,1435 570,1435 605,1390');junc('570,1435 640,1480');
junc('720,1430 760,1400');junc('760,1430 810,1470');
junc('900,1470 960,1420 990,1390');junc('920,1480 1010,1430');
mk('ellipse',{cx:930,cy:1418,rx:20,ry:8,fill:'#2d7a35',stroke:'#111'},schem);
[['Vertices',148,1382],['vertex',258,1398],['stiffness',254,1418],['filopodia',252,1468],['pulling',252,1484],['force',252,1500],['Junction',340,1379],['Initiation',524,1393],['MyoII recruitment',652,1393],['Myosin II',652,1423],['junctional',876,1385],['pulling force',876,1399]].forEach(l=>{txt(l[0],l[1],l[2],12,'#333',schem);});
txt('X',114,1361,12,'#222',schem);txt('Y',90,1372,11,'#222',schem);txt('Z',114,1384,12,'#222',schem);
mk('path',{d:'M108,1364 L128,1364 M108,1364 L95,1385 M108,1364 L108,1390',stroke:'#222','stroke-width':1.5,fill:'none'},schem);
mk('rect',{x:720,y:1408,width:30,height:10,fill:'#2040b0',opacity:0.8},schem);
</script>
</body></html>
